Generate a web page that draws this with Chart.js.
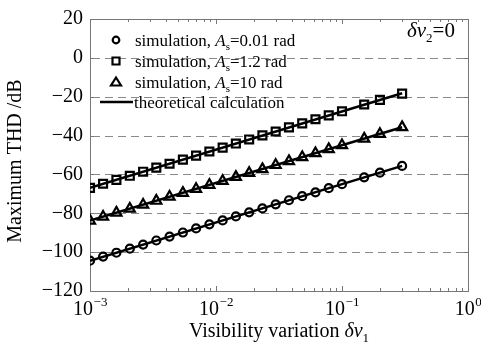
<!DOCTYPE html>
<html>
<head>
<meta charset="utf-8">
<script src="https://cdn.jsdelivr.net/npm/chart.js@4"></script>
<style>
  html, body { margin: 0; padding: 0; background: #fff; }
  #chart { display: block; }
</style>
</head>
<body>
<canvas id="chart" width="481" height="350"></canvas>
<script>
// visibility variation (x), log-spaced samples
const xValues = [0.001, 0.00127, 0.00162, 0.00207, 0.00264, 0.00336, 0.00428, 0.00546, 0.00695, 0.00886,
                 0.01129, 0.01438, 0.01833, 0.02336, 0.02976, 0.03793, 0.04833, 0.06158, 0.07848, 0.1,
                 0.15, 0.2, 0.3];

// simulated maximum THD (dB)
const simSmall = [-104.4, -102.3, -100.3, -98.2, -96.1, -94.0, -92.0, -89.9, -87.8, -85.7,
                  -83.7, -81.6, -79.5, -77.5, -75.4, -73.3, -71.2, -69.2, -67.1, -65.0,
                  -61.5, -59.1, -55.6];
const simMid = [-66.9, -64.8, -62.8, -60.7, -58.6, -56.5, -54.5, -52.4, -50.3, -48.2,
                -46.2, -44.1, -42.0, -39.9, -37.9, -35.8, -33.7, -31.6, -29.6, -27.5,
                -24.0, -21.6, -18.4];
const simLarge = [-83.8, -81.8, -79.7, -77.7, -75.6, -73.6, -71.5, -69.5, -67.5, -65.4,
                  -63.4, -61.3, -59.3, -57.3, -55.2, -53.2, -51.1, -49.1, -47.0, -45.0,
                  -41.6, -39.2, -35.7];

// theoretical calculation (straight lines on log axis)
const theoryX = [0.001, 0.3];
const theorySmall = [-104.4, -55.6];
const theoryMid = [-66.9, -18.2];
const theoryLarge = [-83.8, -35.7];

const yTicks = [20, 0, -20, -40, -60, -80, -100, -120];
const yGrid = [0, -20, -40, -60, -80, -100];
const xDecades = [0.001, 0.01, 0.1, 1];
const xExponents = ['\u22123', '\u22122', '\u22121', '0'];

const SERIF = '"Liberation Serif", "Times New Roman", serif';

function pts(xs, ys) {
    return xs.map((x, i) => ({ x: x, y: ys[i] }));
}

function lineSet(ys) {
    return {
        type: 'line',
        data: pts(theoryX, ys),
        borderColor: '#000',
        borderWidth: 2.5,
        pointRadius: 0,
        fill: false,
        order: 2
    };
}

function markerSet(ys, style, radius) {
    return {
        type: 'line',
        data: pts(xValues, ys),
        showLine: false,
        pointStyle: style,
        pointRadius: radius,
        pointBorderWidth: 2.2,
        pointBorderColor: '#000',
        pointBackgroundColor: 'rgba(0,0,0,0)',
        order: 1
    };
}

// grid lines, frame and ticks drawn behind the data
const framePlugin = {
    id: 'frame',
    beforeDatasetsDraw(chart) {
        const ctx = chart.ctx;
        const a = chart.chartArea;
        const xs = chart.scales.x;
        const ys = chart.scales.y;
        ctx.save();

        // dashed horizontal grid
        ctx.strokeStyle = '#8a8a8a';
        ctx.lineWidth = 1;
        ctx.setLineDash([8, 5]);
        yGrid.forEach(v => {
            const y = Math.round(ys.getPixelForValue(v)) + 0.5;
            ctx.beginPath();
            ctx.moveTo(a.left + 2, y);
            ctx.lineTo(a.right, y);
            ctx.stroke();
        });
        ctx.setLineDash([]);

        // axis box
        ctx.strokeStyle = '#777';
        ctx.strokeRect(a.left + 0.5, a.top + 0.5, a.right - a.left, a.bottom - a.top);

        // x ticks, top and bottom, pointing inward
        ctx.beginPath();
        for (let d = 0; d < 3; d++) {
            for (let m = 1; m <= 9; m++) {
                const v = xDecades[d] * m;
                const x = Math.round(xs.getPixelForValue(v)) + 0.5;
                const len = m === 1 ? 5 : 3;
                ctx.moveTo(x, a.bottom);
                ctx.lineTo(x, a.bottom - len);
                ctx.moveTo(x, a.top);
                ctx.lineTo(x, a.top + len);
            }
        }
        // y ticks, left and right
        yTicks.forEach(v => {
            const y = Math.round(ys.getPixelForValue(v)) + 0.5;
            ctx.moveTo(a.left, y);
            ctx.lineTo(a.left + 4, y);
            ctx.moveTo(a.right, y);
            ctx.lineTo(a.right - 4, y);
        });
        ctx.stroke();
        ctx.restore();
    },

    afterDraw(chart) {
        const ctx = chart.ctx;
        const a = chart.chartArea;
        const xs = chart.scales.x;
        ctx.save();
        ctx.fillStyle = '#000';
        ctx.textBaseline = 'alphabetic';

        // x tick labels 10^n
        xDecades.forEach((v, i) => {
            const cx = xs.getPixelForValue(v);
            ctx.font = '20px ' + SERIF;
            const wBase = ctx.measureText('10').width;
            ctx.font = '13px ' + SERIF;
            const wExp = ctx.measureText(xExponents[i]).width;
            const x0 = cx - (wBase + wExp) / 2;
            ctx.font = '20px ' + SERIF;
            ctx.textAlign = 'left';
            ctx.fillText('10', x0, 315);
            ctx.font = '13px ' + SERIF;
            ctx.fillText(xExponents[i], x0 + wBase + 0.5, 306);
        });

        // x title with subscript
        const parts = [
            { t: 'Visibility variation ', f: '20px ' + SERIF, dy: 0 },
            { t: '\u03B4v', f: 'italic 20px ' + SERIF, dy: 0 },
            { t: '1', f: '13px ' + SERIF, dy: 5 }
        ];
        drawRuns(ctx, parts, (a.left + a.right) / 2, 337, 'center');

        // y title
        ctx.save();
        ctx.translate(21, (a.top + a.bottom) / 2 + 6);
        ctx.rotate(-Math.PI / 2);
        ctx.font = '20px ' + SERIF;
        ctx.textAlign = 'center';
        ctx.fillText('Maximum THD /dB', 0, 0);
        ctx.restore();

        // annotation
        drawRuns(ctx, [
            { t: '\u03B4v', f: 'italic 21px ' + SERIF, dy: 0 },
            { t: '2', f: '13px ' + SERIF, dy: 5 },
            { t: '=0', f: '21px ' + SERIF, dy: 0 }
        ], 407, 37, 'left');

        // legend
        const legendRows = [
            { y: 40, mark: 'circle', rad: '0.01' },
            { y: 61, mark: 'rect', rad: '1.2' },
            { y: 82, mark: 'triangle', rad: '10' },
            { y: 102, mark: 'line' }
        ];
        ctx.strokeStyle = '#000';
        legendRows.forEach(r => {
            const mx = 116;
            ctx.lineWidth = 2.2;
            ctx.beginPath();
            if (r.mark === 'circle') {
                ctx.arc(mx, r.y, 3.3, 0, Math.PI * 2);
            } else if (r.mark === 'rect') {
                ctx.rect(mx - 3.5, r.y - 3.5, 7, 7);
            } else if (r.mark === 'triangle') {
                ctx.moveTo(mx, r.y - 4.5);
                ctx.lineTo(mx + 5, r.y + 3.5);
                ctx.lineTo(mx - 5, r.y + 3.5);
                ctx.closePath();
            } else {
                ctx.lineWidth = 2.5;
                ctx.moveTo(100, r.y);
                ctx.lineTo(133, r.y);
            }
            ctx.stroke();
            const ty = r.y + 6;
            if (r.mark === 'line') {
                drawRuns(ctx, [{ t: 'theoretical calculation', f: '17px ' + SERIF, dy: 0 }], 134, ty, 'left');
            } else {
                drawRuns(ctx, [
                    { t: 'simulation, ', f: '17px ' + SERIF, dy: 0 },
                    { t: 'A', f: 'italic 17px ' + SERIF, dy: 0 },
                    { t: 's', f: '11px ' + SERIF, dy: 4 },
                    { t: '=' + r.rad + ' rad', f: '17px ' + SERIF, dy: 0 }
                ], 135, ty, 'left');
            }
        });
        ctx.restore();
    }
};

// draw a run of text pieces with different fonts/offsets
function drawRuns(ctx, parts, x, y, align) {
    let total = 0;
    parts.forEach(p => {
        ctx.font = p.f;
        p.w = ctx.measureText(p.t).width;
        total += p.w;
    });
    let cx = align === 'center' ? x - total / 2 : x;
    ctx.textAlign = 'left';
    parts.forEach(p => {
        ctx.font = p.f;
        ctx.fillText(p.t, cx, y + p.dy);
        cx += p.w;
    });
}

const chart = new Chart(document.getElementById('chart'), {
    type: 'line',
    data: {
        datasets: [
            lineSet(theorySmall),
            lineSet(theoryMid),
            lineSet(theoryLarge),
            markerSet(simSmall, 'circle', 4),
            markerSet(simMid, 'rect', 5.6),
            markerSet(simLarge, 'triangle', 5.8)
        ]
    },
    options: {
        responsive: false,
        animation: false,
        devicePixelRatio: 1,
        layout: { padding: { left: 0, right: 13, top: 13, bottom: 0 } },
        plugins: {
            legend: { display: false },
            tooltip: { enabled: false }
        },
        scales: {
            x: {
                type: 'logarithmic',
                min: 0.001,
                max: 1,
                grid: { display: false },
                border: { display: false },
                ticks: { display: false },
                afterFit: s => { s.height = 59; }
            },
            y: {
                type: 'linear',
                min: -120,
                max: 20,
                grid: { display: false, drawTicks: false },
                border: { display: false },
                ticks: {
                    stepSize: 20,
                    color: '#000',
                    padding: 7,
                    font: { family: SERIF, size: 20 },
                    callback: v => String(v).replace('-', '\u2212')
                },
                afterFit: s => { s.width = 90; }
            }
        }
    },
    plugins: [framePlugin]
});
</script>
</body>
</html>
